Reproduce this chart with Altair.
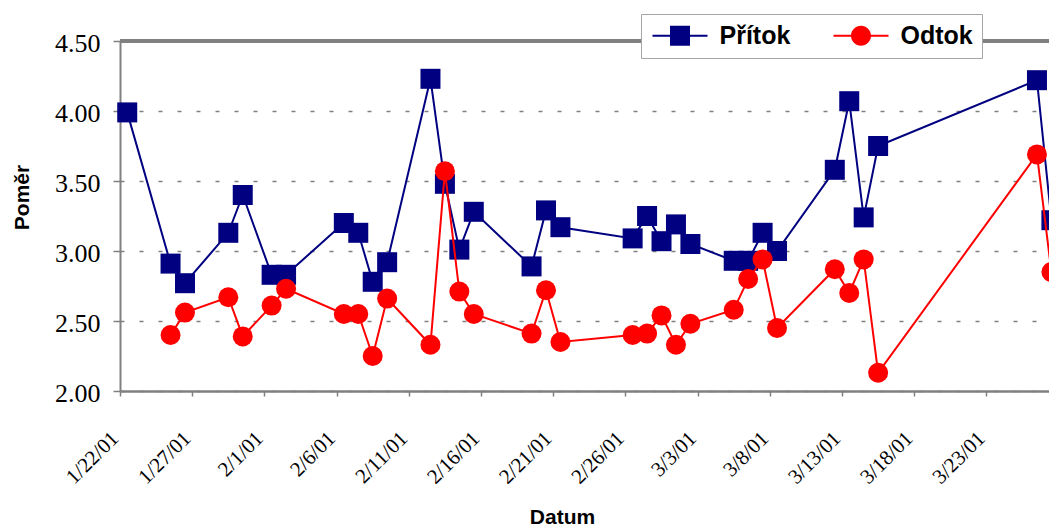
import altair as alt
import pandas as pd

# ---- data ----
dates_pritok = ["2001-01-22", "2001-01-25", "2001-01-26", "2001-01-29", "2001-01-30",
                "2001-02-01", "2001-02-02", "2001-02-06", "2001-02-07", "2001-02-08",
                "2001-02-09", "2001-02-12", "2001-02-13", "2001-02-14", "2001-02-15",
                "2001-02-19", "2001-02-20", "2001-02-21", "2001-02-26", "2001-02-27",
                "2001-02-28", "2001-03-01", "2001-03-02", "2001-03-05", "2001-03-06",
                "2001-03-07", "2001-03-08", "2001-03-12", "2001-03-13", "2001-03-14",
                "2001-03-15", "2001-03-26", "2001-03-27"]
pritok = [3.99, 2.91, 2.77, 3.13, 3.40, 2.83, 2.83, 3.20, 3.13, 2.78,
          2.92, 4.23, 3.48, 3.01, 3.28, 2.89, 3.29, 3.17, 3.09, 3.25,
          3.07, 3.19, 3.05, 2.93, 2.93, 3.13, 3.00, 3.58, 4.07, 3.24,
          3.75, 4.22, 3.22]

dates_odtok = dates_pritok[1:]
odtok = [2.40, 2.56, 2.67, 2.39, 2.61, 2.73, 2.55, 2.55, 2.25, 2.66,
         2.33, 3.57, 2.71, 2.55, 2.41, 2.72, 2.35, 2.40, 2.41, 2.54,
         2.33, 2.48, 2.58, 2.80, 2.94, 2.45, 2.87, 2.70, 2.94, 2.13,
         3.69, 2.85]

series_names = ["Přítok", "Odtok"]
series_colors = ["#000080", "#FF0000"]

tick_dates = ["2001-01-22", "2001-01-27", "2001-02-01", "2001-02-06", "2001-02-11",
              "2001-02-16", "2001-02-21", "2001-02-26", "2001-03-03", "2001-03-08",
              "2001-03-13", "2001-03-18", "2001-03-23"]
y_ticks = [2.0, 2.5, 3.0, 3.5, 4.0, 4.5]

# ---- table ----
df = pd.concat([
    pd.DataFrame({"date": dates_pritok, "value": pritok, "series": series_names[0]}),
    pd.DataFrame({"date": dates_odtok, "value": odtok, "series": series_names[1]}),
])
# points sit in the middle of their day slot (Excel date axis)
df["date"] = pd.to_datetime(df["date"]) + pd.Timedelta(hours=12)

def dt(s, hours=0):
    t = pd.Timestamp(s)
    return alt.DateTime(year=t.year, month=t.month, date=t.day, hours=hours)

W, H = 929, 350
GRAY = "#808080"

x_enc = alt.X("date:T",
              scale=alt.Scale(domain=[dt("2001-01-22"), dt("2001-03-27", 8)], nice=False),
              axis=alt.Axis(values=[dt(s) for s in tick_dates], format="%-m/%-d/%y",
                            labelAngle=315, labelAlign="right", labelBaseline="middle",
                            labelPadding=39, labelOffset=-5, tickSize=5, tickWidth=1.5,
                            tickColor=GRAY, domainColor=GRAY, domainWidth=2.5, grid=False,
                            labelFont="Liberation Serif", labelFontSize=21, labelColor="black",
                            labelOverlap=False, labelFlush=False, labelBound=False,
                            title="Datum", titleFont="Liberation Sans", titleFontSize=21,
                            titleFontWeight="bold", titleColor="black",
                            titleX=442, titleY=126, titleAlign="center",
                            titleBaseline="middle"))
y_enc = alt.Y("value:Q",
              scale=alt.Scale(domain=[2, 4.5], nice=False, zero=False),
              axis=alt.Axis(values=y_ticks, format=".2f", labelFont="Liberation Serif",
                            labelFontSize=26, labelColor="black", labelPadding=13,
                            labelOffset=2, tickSize=7, tickWidth=1.5, tickColor=GRAY,
                            domainColor=GRAY, domainWidth=2, grid=True,
                            gridColor=GRAY, gridDash=[4, 15], gridWidth=1.3,
                            title="Poměr", titleFont="Liberation Sans", titleFontSize=21,
                            titleFontWeight="bold", titleColor="black",
                            titleX=-98, titleY=156, titleAngle=270,
                            titleAlign="center", titleBaseline="middle"))

base = alt.Chart(df).encode(x=x_enc, y=y_enc)

layers = []
shapes = ["square", "circle"]
for name, color, shape in zip(series_names, series_colors, shapes):
    sub = base.transform_filter(alt.datum.series == name)
    layers.append(sub.mark_line(color=color, strokeWidth=2))
    layers.append(sub.mark_point(shape=shape, filled=True, size=400, color=color, opacity=1))

border = alt.Chart(df).mark_rule(color=GRAY, strokeWidth=2.5).encode(
    x=alt.value(0), x2=alt.value(W), y=alt.value(0))

# legend symbols: line through marker
path_sq = "M-2.75,-0.1H2.75V0.1H-2.75Z M-1,-1H1V1H-1Z"
path_ci = "M-2.75,-0.1H2.75V0.1H-2.75Z M-1,0A1,1 0 1,1 1,0A1,1 0 1,1 -1,0Z"

def make_legend():
    return alt.Legend(
        title=None, orient="none", legendX=521, legendY=-27, direction="horizontal",
        padding=9, strokeColor="#a6a6a6", fillColor="white",
        labelFont="Liberation Sans", labelFontSize=25, labelFontWeight="bold",
        labelColor="black", symbolSize=400, symbolStrokeWidth=0, symbolOpacity=1,
        symbolOffset=17.5, labelOffset=27, columnPadding=40)

legend_layer = alt.Chart(df).transform_filter("false").mark_point(filled=True, opacity=1).encode(
    color=alt.Color("series:N", scale=alt.Scale(domain=series_names, range=series_colors),
                    legend=make_legend()),
    shape=alt.Shape("series:N", scale=alt.Scale(domain=series_names, range=[path_sq, path_ci]),
                    legend=make_legend()),
)

chart = alt.layer(border, *layers, legend_layer).properties(
    width=W, height=H,
    autosize=alt.AutoSizeParams(type="none"),
    padding={"left": 120, "top": 41, "right": 0, "bottom": 137},
).configure_view(stroke=None).configure(background="white")

chart.save("out.html", embed_options={"renderer": "svg", "actions": False})
